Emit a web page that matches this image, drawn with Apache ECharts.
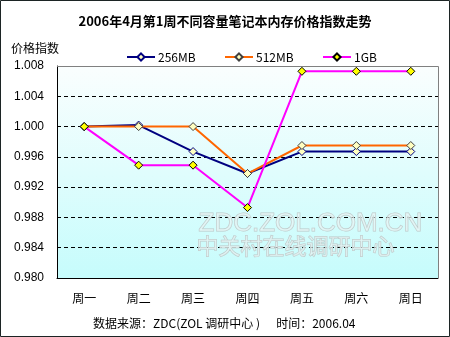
<!DOCTYPE html>
<html>
<head>
<meta charset="utf-8">
<script src="https://cdn.jsdelivr.net/npm/echarts@6/dist/echarts.min.js"></script>
<style>
  html, body { margin: 0; padding: 0; background: #fff; }
  #chart { width: 450px; height: 337px; }
</style>
</head>
<body>
<div id="chart"></div>
<script>
// Weekly price index for notebook memory modules, first week of April 2006
const days = ['周一', '周二', '周三', '周四', '周五', '周六', '周日'];
const mem256 = [1.0000, 1.0002, 0.9967, 0.9938, 0.9967, 0.9967, 0.9967];
const mem512 = [1.0000, 1.0000, 1.0000, 0.9938, 0.9975, 0.9975, 0.9975];
const mem1g  = [1.0000, 0.9949, 0.9949, 0.9893, 1.0073, 1.0073, 1.0073];
const seriesNames = ['256MB', '512MB', '1GB'];

const font = '"Noto Sans CJK SC", "Liberation Sans", sans-serif';
const chart = echarts.init(document.getElementById('chart'), null, { renderer: 'canvas' });

function lineSeries(name, data, color, fill, border) {
  return {
    name: name,
    type: 'line',
    data: data,
    symbol: 'diamond',
    symbolSize: 8,
    lineStyle: { color: color, width: 2 },
    itemStyle: { color: fill, borderColor: border, borderWidth: 1 },
    emphasis: { disabled: true },
    animation: false
  };
}

function legendAt(name, left) {
  return {
    data: [name],
    left: left,
    top: 46,
    itemWidth: 28,
    itemHeight: 9,
    itemGap: 0,
    textStyle: { fontFamily: font, fontSize: 12, color: '#000', padding: [0, 0, 0, -2] }
  };
}

chart.setOption({
  backgroundColor: '#fff',
  animation: false,
  title: {
    text: '2006年4月第1周不同容量笔记本内存价格指数走势',
    left: 'center',
    top: 10,
    textStyle: { fontFamily: font, fontSize: 13, fontWeight: 'bold', color: '#000' }
  },
  legend: [legendAt(seriesNames[0], 121), legendAt(seriesNames[1], 219), legendAt(seriesNames[2], 317)],
  grid: { left: 57, top: 66, right: 12, bottom: 59, show: true, borderWidth: 0,
    backgroundColor: new echarts.graphic.LinearGradient(0, 0, 0, 1, [
      { offset: 0, color: '#fafefe' },
      { offset: 1, color: '#c6fcfc' }
    ]) },
  xAxis: {
    type: 'category',
    data: days,
    boundaryGap: true,
    axisLine: { lineStyle: { color: '#000', width: 1 } },
    axisTick: { inside: true, length: 4, lineStyle: { color: '#000' } },
    axisLabel: { fontFamily: font, fontSize: 12, color: '#000', margin: 14 },
    splitLine: { show: false }
  },
  yAxis: {
    type: 'value',
    min: 0.980,
    max: 1.008,
    interval: 0.004,
    name: '价格指数',
    nameLocation: 'end',
    nameGap: 12,
    nameTextStyle: { fontFamily: font, fontSize: 12, color: '#000', align: 'left', padding: [0, 0, 0, -46] },
    axisLine: { show: true, lineStyle: { color: '#000', width: 1 } },
    axisTick: { show: false },
    axisLabel: { fontFamily: '"Liberation Sans", Arial, sans-serif', fontSize: 12, color: '#000', margin: 13,
      formatter: v => v.toFixed(3) },
    splitLine: { lineStyle: { color: '#000', type: [4, 3], width: 1 } }
  },
  graphic: [
    // outer frame of the whole chart
    { type: 'rect', shape: { x: 0.5, y: 0.5, width: 449, height: 336 },
      style: { stroke: '#1c2424', lineWidth: 1, fill: null }, z: 10, silent: true },
    // top and right frame of the plot area
    { type: 'polyline', shape: { points: [[57, 66.5], [438.5, 66.5], [438.5, 278]] },
      style: { stroke: '#808080', lineWidth: 1, fill: null }, z: 5 },
    // embossed site watermark
    { type: 'text', left: 198, top: 210, z: 1,
      style: { text: 'ZDC.ZOL.COM.CN', font: '26px "Liberation Sans", Arial, sans-serif',
        fill: 'rgba(235,245,245,0.6)', stroke: '#bcc8c8', lineWidth: 1 } },
    { type: 'text', left: 196, top: 234, z: 1,
      style: { text: '中关村在线调研中心', font: '22px "Noto Sans CJK SC", sans-serif',
        fill: 'rgba(235,245,245,0.6)', stroke: '#bcc8c8', lineWidth: 1 } },
    { type: 'text', left: 93, top: 317, z: 5,
      style: { text: '数据来源：ZDC(ZOL 调研中心 )      时间：2006.04', font: '12px ' + font, fill: '#000' } }
  ],
  series: [
    lineSeries(seriesNames[0], mem256, '#000080', '#ffffc0', '#000080'),
    lineSeries(seriesNames[1], mem512, '#ff6600', '#ffffc0', '#404040'),
    lineSeries(seriesNames[2], mem1g, '#ff00ff', '#ffff00', '#000000')
  ]
});
</script>
</body>
</html>
